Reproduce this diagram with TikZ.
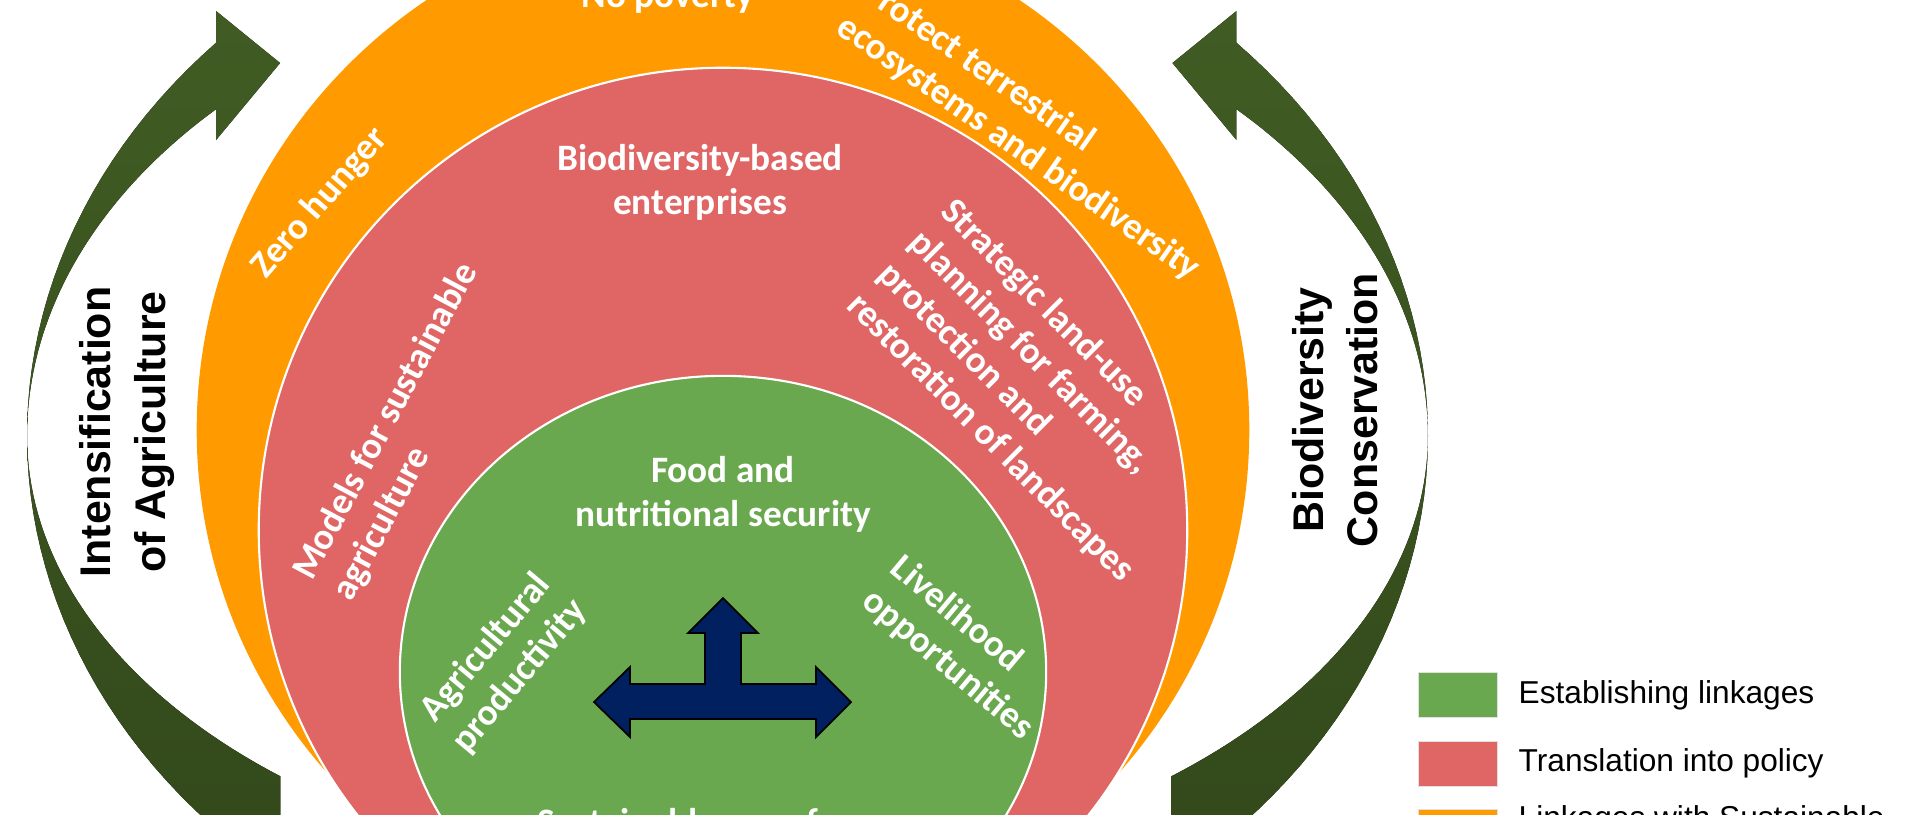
\documentclass[tikz,border=0pt]{standalone}
\usepackage{fontspec}
\newfontfamily\calibri{Carlito}
\newfontfamily\arialfont{Liberation Sans}
\definecolor{sdgorange}{RGB}{255,155,0}
\definecolor{policyred}{RGB}{224,102,102}
\definecolor{linkgreen}{RGB}{106,168,79}
\definecolor{arrowtop}{RGB}{64,92,35}
\definecolor{arrowbot}{RGB}{51,73,27}
\definecolor{navy}{RGB}{0,32,96}

\begin{document}
\begin{tikzpicture}[
        x={(0.01cm,0cm)},
        y={(0cm,-0.01cm)},
        ring/.style={draw=white, line width=0.6pt},
        wtext/.style={text=white, inner sep=0pt, align=center,
          font=\calibri\bfseries\fontsize{10.6}{12.6}\selectfont},
        btext/.style={inner sep=0pt, align=center, rotate=90,
          font=\arialfont\bfseries\fontsize{12.2}{15.5}\selectfont},
        key/.style={draw=black!12, line width=0.5pt, inner sep=0pt,
          minimum width=0.79cm, minimum height=0.45cm},
        keytext/.style={inner sep=0pt, anchor=base west,
          font=\arialfont\fontsize{9}{11}\selectfont},
        ]
        \useasboundingbox[fill=white] (0,0) rectangle (1920,814);

        % curved arrows, left and right
        \foreach \side/\rx in {-1/696, 1/705} {
          \fill[top color=arrowtop, bottom color=arrowbot]
            plot[domain=43.25:-46, samples=50] ({723+\side*\rx*cos(\x)}, {436-574*sin(\x)})
            -- ({723+\side*\rx*cos(50.5)}, 849)
            -- plot[domain=-50.5:0, samples=40] ({723+\side*\rx*cos(\x)}, {436-441*sin(\x)})
            -- plot[domain=0:43.25, samples=40] ({723+\side*\rx*cos(\x)}, {436-477*sin(\x)})
            -- ({723+\side*\rx*cos(43.25)}, 140)
            -- ({723+\side*\rx*cos(43.25)-\side*64}, 63)
            -- ({723+\side*\rx*cos(43.25)}, 11)
            -- cycle;
        }

        % rings
        \path[fill=sdgorange] (723,430) ellipse [x radius=5.26cm, y radius=5.2cm];
        \path[ring, fill=policyred] (723,530) ellipse [x radius=4.64cm, y radius=4.62cm];
        \path[ring, fill=linkgreen] (723,672) ellipse [x radius=3.23cm, y radius=2.96cm];

        % outer ring
        \node[wtext, anchor=base] (nopoverty) at (668,7) {No poverty};
        \node[wtext, align=left, rotate=-35] (protect) at (1031,130) {Protect terrestrial\\ecosystems and biodiversity};
        \node[wtext, rotate=49] (zerohunger) at (320,203) {Zero hunger};
        % middle ring
        \node[wtext] (enterprises) at (700,182) {Biodiversity-based\\enterprises};
        \node[wtext, align=left, rotate=62] (models) at (406,432) {Models for sustainable\\agriculture};
        \node[wtext, align=left, rotate=-45] (landuse) at (1037,391) {Strategic land-use\\planning for farming,\\protection and\\restoration of landscapes};
        % inner ring
        \node[wtext] (food) at (723,494) {Food and\\nutritional security};
        \node[wtext, rotate=50] (agri) at (503,662) {Agricultural\\productivity};
        \node[wtext, align=left, rotate=-40] (livelihood) at (962,648) {Livelihood\\opportunities};
        \node[wtext, anchor=base] (sustainable) at (678,834) {Sustainable use of};

        \draw[fill=navy, line width=0.5pt] (723,598) -- (758,633) -- (741,633) -- (741,684)
          -- (816,684) -- (816,667) -- (851,702) -- (816,737) -- (816,719) -- (630,719)
          -- (630,737) -- (594,702) -- (630,667) -- (630,684) -- (705,684) -- (705,633)
          -- (688,633) -- cycle;

        \node[btext] (intens) at (127,432) {Intensification\\of Agriculture};
        \node[btext] (biocons) at (1335,410) {Biodiversity\\Conservation};

        % legend
        \node[key, fill=linkgreen] (keygreen) at (1458,695) {};
        \node[key, fill=policyred] (keyred) at (1458,764) {};
        \node[key, fill=sdgorange] (keyorange) at (1458,832) {};
        \node[keytext] (keygreentext) at (1518,703) {Establishing linkages};
        \node[keytext] (keyredtext) at (1518,771) {Translation into policy};
        \node[keytext] (keyorangetext) at (1518,828) {Linkages with Sustainable};
      \end{tikzpicture}
\end{document}
